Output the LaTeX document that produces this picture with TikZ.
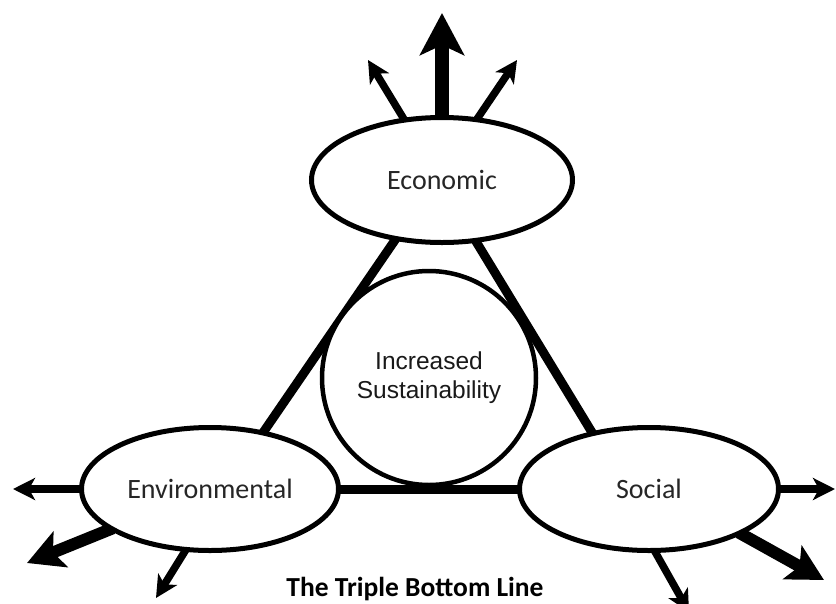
\documentclass[tikz,border=0pt]{standalone}
\usepackage{fontspec}
\setmainfont{Carlito}
\newfontfamily\arialfont{Liberation Sans}
\usetikzlibrary{arrows.meta,shapes.geometric,backgrounds}
\begin{document}
\begin{tikzpicture}[x=1pt,y=-1pt,
  pillar/.style={ellipse,draw,line width=5pt,fill=white,inner sep=0pt,font=\fontsize{28}{32}\selectfont,text=black!85},
  core/.style={circle,draw,line width=4.5pt,fill=white,minimum size=214pt,inner sep=0pt,align=center,font=\arialfont\fontsize{24.5}{29}\selectfont,text=black!90},
  thinarrow/.style={line width=7.5pt,-{Stealth[length=22pt,width=22pt,inset=6pt]},shorten <=-4pt},
  thickarrow/.style={line width=14pt,-{Stealth[length=42pt,width=44pt,inset=10pt]},shorten <=-4pt},
  midarrow/.style={line width=12pt,-{Stealth[length=36pt,width=38pt,inset=8pt]},shorten <=-4pt},
  tbl/.style={line width=9pt,shorten <=-4pt,shorten >=-4pt}
]
\useasboundingbox (0,0) rectangle (836,603);
\clip (0,0) rectangle (836,603);

\node[pillar,minimum width=261pt,minimum height=125pt] (eco) at (442,180) {Economic};
\node[pillar,minimum width=257pt,minimum height=123pt] (env) at (210,489) {Environmental};
\node[pillar,minimum width=259pt,minimum height=123pt] (soc) at (649,489) {Social};
\node[core] (core) at (429,378) {Increased\\Sustainability};
\node[font=\bfseries\fontsize{27.5}{32}\selectfont] (title) at (415,589) {The Triple Bottom Line};

\coordinate (ecoL) at (368,60);
\coordinate (ecoT) at (442,13);
\coordinate (ecoR) at (517,60);
\coordinate (envW) at (13,489);
\coordinate (envSW) at (27,563);
\coordinate (envS) at (156,598);
\coordinate (socE) at (835,489);
\coordinate (socSE) at (824,580);
\coordinate (socS) at (689,612);

\begin{pgfonlayer}{background}
\fill[white] (0,0) rectangle (836,603);
\draw[tbl] (eco.232) -- (env.47);
\draw[tbl] (eco.299) -- (soc.135);
\draw[tbl] (env.east) -- (soc.west);
\draw[thinarrow] (eco.122) -- (ecoL);
\draw[thickarrow] (eco.north) -- (ecoT);
\draw[thinarrow] (eco.60) -- (ecoR);
\draw[thinarrow] (env.west) -- (envW);
\draw[midarrow] (env.202) -- (envSW);
\draw[thinarrow] (env.248) -- (envS);
\draw[thinarrow] (soc.east) -- (socE);
\draw[midarrow] (soc.334) -- (socSE);
\draw[thinarrow] (soc.276) -- (socS);
\end{pgfonlayer}
\end{tikzpicture}
\end{document}
